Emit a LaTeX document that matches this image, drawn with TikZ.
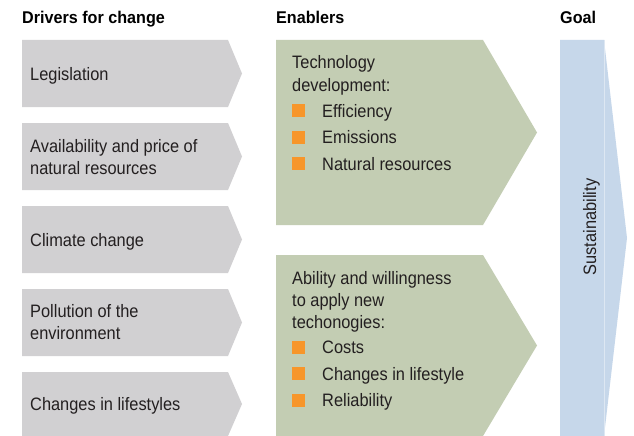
\documentclass[tikz,border=0pt]{standalone}
\usepackage{fontspec}
\setmainfont{Liberation Sans}[FakeStretch=0.91]
\newfontfamily\headfont{Liberation Sans}[FakeStretch=0.95]
\definecolor{greyc}{HTML}{D1D0D2}
\definecolor{greenc}{HTML}{C3CDB3}
\definecolor{bluec}{HTML}{C6D7EA}
\definecolor{bluel}{HTML}{DDE7F2}
\definecolor{orangec}{HTML}{F7962B}
\definecolor{textc}{HTML}{231F20}
\tikzset{
  txt/.style={anchor=base west,inner sep=0,font=\fontsize{18}{22}\selectfont,text=textc,align=left},
  head/.style={anchor=base west,inner sep=0,font=\headfont\bfseries\fontsize{17}{20}\selectfont,text=black},
  bul/.style={fill=orangec},
}
\begin{document}
\begin{tikzpicture}[x=1pt,y=-1pt]
\clip (0,0) rectangle (634,436);
\fill[white] (0,0) rectangle (634,436);
% headings
\node[head] (h1) at (22,24) {Drivers for change};
\node[head] (h2) at (276,24) {Enablers};
\node[head] (h3) at (560,24) {Goal};
% grey chevrons
\foreach \a/\b in {40/107,123/190,206/273,289/356,372/436}{
  \fill[greyc] (22,\a) -- (228,\a) -- (242,{(\a+\b)/2}) -- (228,\b) -- (22,\b) -- cycle;
}
\node[txt] (d1) at (30,80) {Legislation};
\node[txt,anchor=west] (d2) at (30,157.5) {Availability and price of\\natural resources};
\node[txt] (d3) at (30,246.5) {Climate change};
\node[txt,anchor=west] (d4) at (30,322.5) {Pollution of the\\environment};
\node[txt] (d5) at (30,410.5) {Changes in lifestyles};
% green chevrons
\fill[greenc] (276,40) -- (483,40) -- (537,132.5) -- (483,225) -- (276,225) -- cycle;
\fill[greenc] (276,255) -- (483,255) -- (537,345.5) -- (483,436) -- (276,436) -- cycle;
\node[txt] (e1a) at (292,69) {Technology};
\node[txt] (e1b) at (292,91) {development:};
\foreach \y/\t/\n in {117/Efficiency/e1c,143.5/Emissions/e1d,170/Natural resources/e1e}{
  \fill[bul] (292,\y-13) rectangle (305,\y);
  \node[txt] (\n) at (322,\y) {\t};
}
\node[txt] (e2a) at (292,284) {Ability and willingness};
\node[txt] (e2b) at (292,306) {to apply new};
\node[txt] (e2c) at (292,328) {techonogies:};
\foreach \y/\t/\n in {353.5/Costs/e2d,380/Changes in lifestyle/e2e,406.5/Reliability/e2f}{
  \fill[bul] (292,\y-13) rectangle (305,\y);
  \node[txt] (\n) at (322,\y) {\t};
}
% goal
\fill[bluec] (560,40) -- (604,40) -- (627,238) -- (604,436) -- (560,436) -- cycle;
\draw[bluel,line width=0.8pt] (604,40) -- (604,436);
\node[txt,anchor=base,rotate=90] (g) at (596,227) {Sustainability};
\end{tikzpicture}
\end{document}
